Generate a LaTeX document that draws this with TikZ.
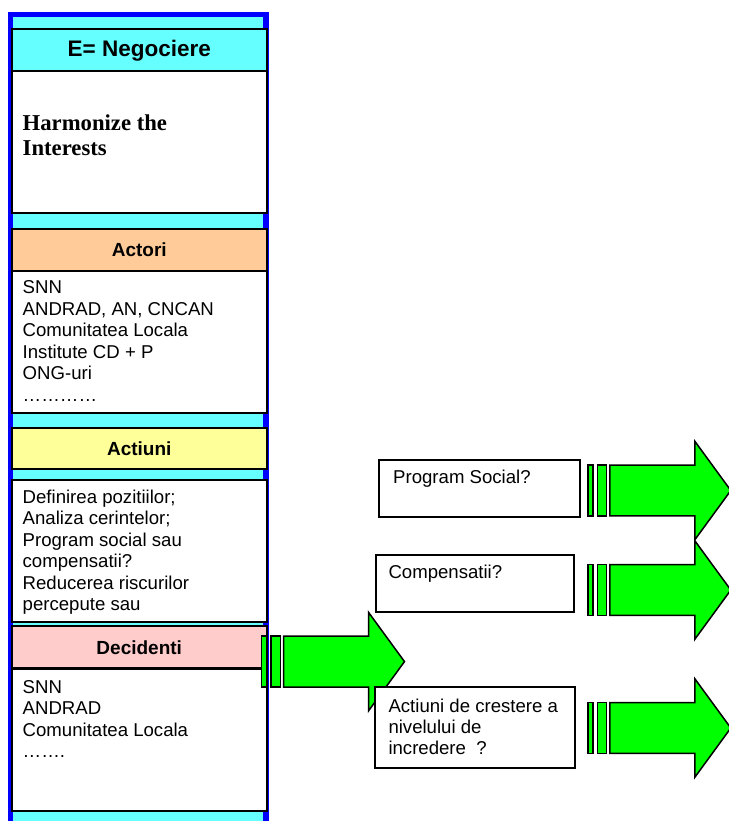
\documentclass[tikz,border=0pt]{standalone}
\usepackage{fontspec}
\setmainfont{Liberation Sans}
\newfontfamily\serifface{Liberation Serif}
\definecolor{framecyan}{HTML}{66FFFF}
\definecolor{frameblue}{HTML}{0000FF}
\definecolor{hdorange}{HTML}{FFCC99}
\definecolor{hdyellow}{HTML}{FFFF99}
\definecolor{hdpink}{HTML}{FFCCCC}
\definecolor{arrowgreen}{HTML}{00FF00}
\newcommand\fTitle{\bfseries\fontsize{22.5}{26}\selectfont}
\newcommand\fHead{\bfseries\fontsize{19}{22}\selectfont}
\newcommand\fBody{\fontsize{18.6}{21.5}\selectfont}
\newcommand\fSide{\fontsize{18.6}{20.7}\selectfont}
\newcommand\fHarm{\serifface\bfseries\fontsize{22.7}{25}\selectfont}
\begin{document}
\begin{tikzpicture}[x=1pt,y=-1pt,
  colbox/.style={draw=black, line width=2pt, minimum width=254.5pt,
    anchor=north west, inner sep=0pt, outer sep=0pt},
  headbox/.style={colbox, minimum height=42pt, font=\fHead},
  bodybox/.style={colbox, fill=white, minimum height=142pt},
  bodytext/.style={anchor=north west, align=left, inner sep=0pt, font=\fBody},
  sidebox/.style={draw=black, line width=1.5pt, fill=white, anchor=north west,
    inner sep=0pt, outer sep=0pt},
  sidetext/.style={inner sep=0pt, font=\fSide, align=left},
  arrowpart/.style={draw=black, line width=1.5pt, fill=arrowgreen, line join=miter},
  greenarrow/.pic={
    \path[arrowpart] (0,-25.4) rectangle (5,25.4);
    \path[arrowpart] (9.5,-25.4) rectangle (18.7,25.4);
    \path[arrowpart] (21.8,-25.4) -- (106.8,-25.4) -- (106.8,-49.3) -- (142.8,0)
      -- (106.8,49.3) -- (106.8,25.4) -- (21.8,25.4) -- cycle;
  }]
\useasboundingbox (0,0) rectangle (728,821);
\fill[white] (0,0) rectangle (728,821);

% outer frame
\path[draw=frameblue, line width=5.5pt, fill=framecyan] (10.5,14.5) rectangle (266,840);

% left column
\node[headbox, fill=framecyan, font=\fTitle, minimum height=41.5pt] (title) at (12,29.5) {E= Negociere};
\node[bodybox] (harm) at (12,71) {};
\node[anchor=north west, align=left, inner sep=0pt, font=\fHarm] (harmtxt) at (22.5,114.5) {Harmonize the\\Interests};

\node[headbox, fill=hdorange] (actori) at (12,228.5) {Actori};
\node[bodybox] (actoribody) at (12,270.5) {};
\node[bodytext] (actoritxt) at (22.5,280.6) {SNN\\ANDRAD, AN, CNCAN\\Comunitatea Locala\\Institute CD + P\\ONG-uri\\…………};

\node[headbox, fill=hdyellow, minimum height=41.5pt] (actiuni) at (12,427.5) {Actiuni};
\node[bodybox] (actiunibody) at (12,479.5) {};
\node[bodytext] (actiunitxt) at (22.5,489.8) {Definirea pozitiilor;\\Analiza cerintelor;\\Program social sau\\compensatii?\\Reducerea riscurilor\\percepute sau};

\node[headbox, fill=hdpink] (decid) at (12,626.3) {Decidenti};
\node[bodybox] (decidbody) at (12,668.5) {};
\node[bodytext] (decidtxt) at (22.5,679.9) {SNN\\ANDRAD\\Comunitatea Locala\\…….};

% arrow from Decidenti
\pic at (261.7,661.6) {greenarrow};

% right side boxes and arrows
\node[sidebox, minimum width=201pt, minimum height=57pt] (progbox) at (379,460) {};
\node[sidetext, anchor=base west] (progtxt) at (393,483.3) {Program Social?};

\node[sidebox, minimum width=198pt, minimum height=57pt] (compbox) at (376,555) {};
\node[sidetext, anchor=base west] (comptxt) at (388.3,578.3) {Compensatii?};

\node[sidebox, minimum width=200pt, minimum height=81pt] (incrbox) at (375,687) {};
\node[sidetext, anchor=north west] (incrtxt) at (388.3,699.3) {Actiuni de crestere a\\nivelului de\\incredere\ \ ?};

\pic at (588,490.5) {greenarrow};
\pic at (588,590) {greenarrow};
\pic at (588,728) {greenarrow};
\end{tikzpicture}
\end{document}
